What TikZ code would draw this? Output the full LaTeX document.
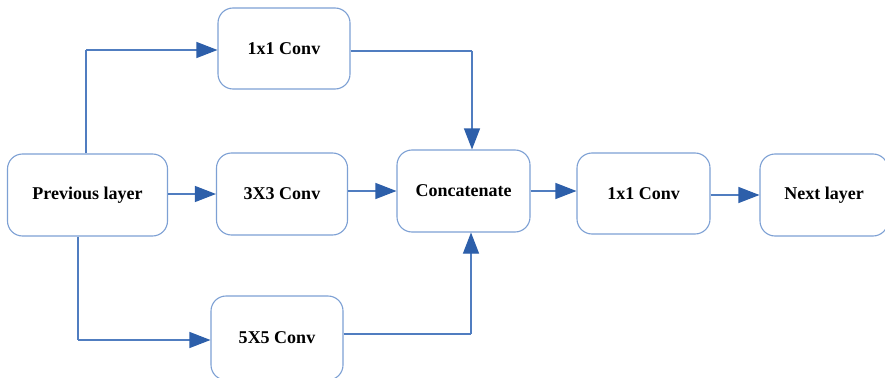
\documentclass[tikz,border=0pt]{standalone}
\usepackage{fontspec}
\setmainfont{Liberation Serif}
\usetikzlibrary{arrows.meta}
\definecolor{boxline}{RGB}{125,160,212}
\definecolor{conn}{RGB}{80,125,192}
\definecolor{tipc}{RGB}{45,95,170}
\begin{document}
\begin{tikzpicture}[x=1pt,y=-1pt,
  blk/.style={draw=boxline, line width=1.1pt, rounded corners=15pt, fill=white,
    font=\fontsize{18}{21}\selectfont\bfseries, inner sep=0pt},
  conn/.style={draw=conn, line width=1.1pt},
  arr/.style={conn, -{Triangle[length=21pt,width=16pt,fill=tipc,color=tipc]}}]
\useasboundingbox (0,0) rectangle (885,377);
\fill[white] (0,0) rectangle (885,377);
\node[blk, minimum width=160pt, minimum height=82pt] (prev) at (87.5,195) {Previous layer};
\node[blk, minimum width=132pt, minimum height=81pt] (c11) at (284,48.5) {1x1 Conv};
\node[blk, minimum width=131pt, minimum height=82pt] (c33) at (282,194) {3X3 Conv};
\node[blk, minimum width=132pt, minimum height=84pt] (c55) at (277,338) {5X5 Conv};
\node[blk, minimum width=133pt, minimum height=82pt] (cat) at (463.5,191) {Concatenate};
\node[blk, minimum width=133pt, minimum height=81pt] (c1b) at (643.5,193.5) {1x1 Conv};
\node[blk, minimum width=128pt, minimum height=82pt] (next) at (824,195) {Next layer};
\coordinate (p1) at (86,50);
\coordinate (p2) at (78,340);
\coordinate (q1) at (472,51);
\coordinate (q2) at (471,334);
\draw[conn] (prev.north -| p1) -- (p1);
\draw[arr] (p1) -- (c11.west |- p1);
\draw[conn] (prev.south -| p2) -- (p2);
\draw[arr] (p2) -- (c55.west |- p2);
\draw[arr] (prev.east |- c33.west) -- (c33.west);
\draw[arr] (c33.east |- cat.west) -- (cat.west);
\draw[conn] (c11.east |- q1) -- (q1);
\draw[arr] (q1) -- (cat.north -| q1);
\draw[conn] (c55.east |- q2) -- (q2);
\draw[arr] (q2) -- (cat.south -| q2);
\draw[arr] (cat.east) -- (c1b.west |- cat.east);
\draw[arr] (c1b.east |- next.west) -- (next.west);
\end{tikzpicture}
\end{document}
